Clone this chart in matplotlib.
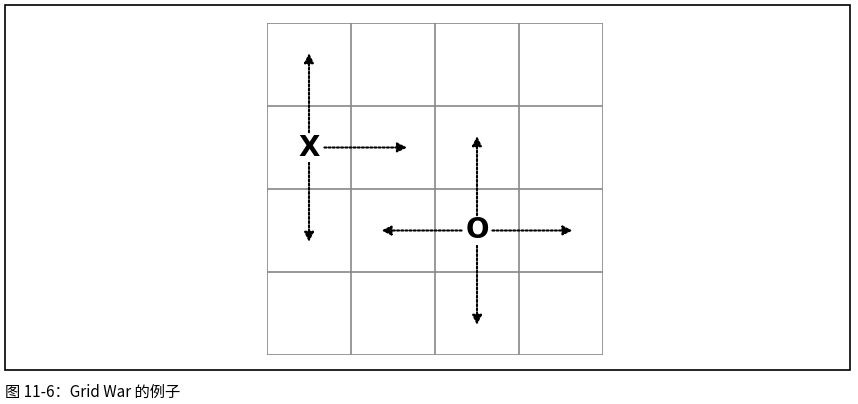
import matplotlib.pyplot as plt
import matplotlib.patches as mpatches

plt.rcParams['font.family'] = ['Noto Sans CJK SC', 'DejaVu Sans']

W, H = 858, 404
n_cells = 4
pieces = ["X", "O"]
piece_pos = [(0.5, 1.5), (2.5, 2.5)]          # (col, row from top)
# arrow reach per piece: (up, down, left, right); 0 = no arrow
reach = [(1.17, 1.17, 0, 1.2), (1.17, 1.17, 1.17, 1.17)]
caption = "图 11-6：Grid War 的例子"

fig = plt.figure(figsize=(W / 100, H / 100), dpi=100)
fig.patches.append(mpatches.Rectangle((5 / W, (H - 370) / H), 845 / W, 365 / H,
                                      transform=fig.transFigure, fill=False,
                                      edgecolor='black', linewidth=1.2))
fig.text(5 / W, (H - 392) / H, caption, fontsize=11, va='center', ha='left')

ax = fig.add_axes([267 / W, (H - 355) / H, 336 / W, 332 / H])
ax.set_xlim(0, n_cells)
ax.set_ylim(n_cells, 0)
for i in range(n_cells + 1):
    ax.axhline(i, color='#888888', linewidth=1.2)
    ax.axvline(i, color='#888888', linewidth=1.2)
ax.axis('off')

for name, (cx, cy), (up, dn, lf, rt) in zip(pieces, piece_pos, reach):
    gap = 0.15
    for dx, dy, d in [(0, -1, up), (0, 1, dn), (-1, 0, lf), (1, 0, rt)]:
        if d == 0:
            continue
        ax.annotate("", xy=(cx + dx * d, cy + dy * d),
                    xytext=(cx + dx * gap, cy + dy * gap),
                    arrowprops=dict(arrowstyle='-|>', linestyle=(0, (1, 1)),
                                    color='black', lw=1.5, mutation_scale=14))
    ax.text(cx, cy, name, fontsize=20, fontweight='bold', ha='center',
            va='center', family='DejaVu Sans Condensed',
            bbox=dict(facecolor='white', edgecolor='none', pad=0))

fig.savefig("out.png", dpi=100)
